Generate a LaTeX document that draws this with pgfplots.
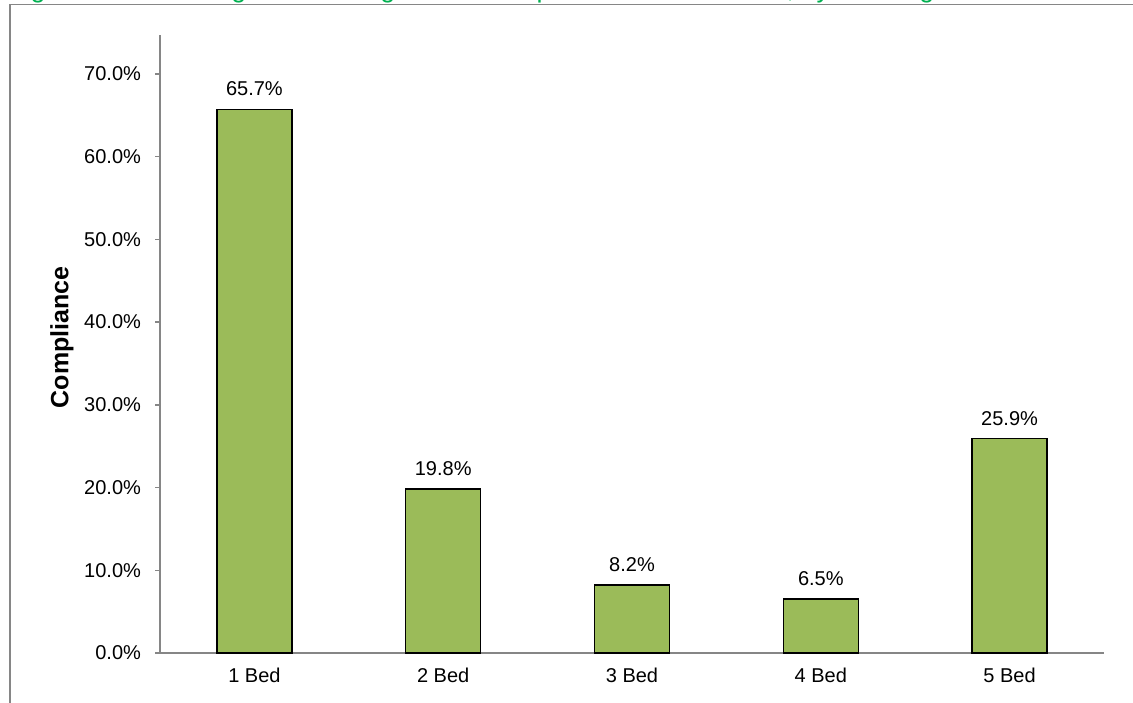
\documentclass[border=0pt]{standalone}
\usepackage{fontspec}
\setmainfont{Liberation Sans}
\usepackage{pgfplots}
\pgfplotsset{compat=1.18}
\definecolor{barGreen}{HTML}{9BBB59}
\definecolor{axisGray}{HTML}{868686}
\definecolor{titleGreen}{HTML}{00B050}

\begin{document}
\begin{tikzpicture}
\begin{axis}[
    at={(80pt,24.5pt)}, anchor=south west,
    scale only axis, width=472pt, height=309pt,
    xmin=-0.5, xmax=4.5,
    ymin=0, ymax=74.7,
    axis x line*=bottom, axis y line*=left,
    axis line style={axisGray, line width=0.75pt, -},
    tick align=outside,
    major tick length=2.5pt,
    minor tick length=3.5pt,
    xtick={0,1,2,3,4},
    xticklabels={1 Bed,2 Bed,3 Bed,4 Bed,5 Bed},
    xtick style={draw=none},
    minor xtick={-0.5,0.5,1.5,2.5,3.5,4.5},
    every minor tick/.append style={axisGray, line width=0.75pt},
    ytick={0,10,20,30,40,50,60,70},
    ytick style={axisGray, line width=0.75pt},
    yticklabel={\pgfmathprintnumber[fixed,fixed zerofill,precision=1]{\tick}\%},
    /pgf/number format/assume math mode=true,
    tick label style={font=\fontsize{10}{12}\selectfont, black},
    yticklabel style={xshift=-3.5pt},
    xticklabel style={yshift=-1.5pt},
    ylabel={Compliance},
    every axis y label/.style={at={(axis description cs:-0.104,0.511)}, rotate=90, anchor=center, font=\fontsize{12.5}{15}\selectfont\bfseries},
    ybar, bar width=37.5pt,
    nodes near coords={\pgfmathprintnumber[fixed,fixed zerofill,precision=1]{\pgfplotspointmeta}\%},
    nodes near coords style={font=\fontsize{10}{12}\selectfont, black, yshift=3pt},
    clip=false,
]
\addplot[fill=barGreen, draw=black, line width=0.75pt] coordinates {
    (0, 65.7)
    (1, 19.8)
    (2, 8.2)
    (3, 6.5)
    (4, 25.9)
};
\end{axis}

% chart area frame, cut by the page edge
\draw[axisGray, line width=0.75pt] (5pt,-20pt) -- (5pt,348.85pt) -- (600pt,348.85pt);
% caption above the frame, mostly cut off
\node[anchor=base west, text=titleGreen, font=\fontsize{13.4}{16}\selectfont, inner sep=0pt]
    at (4pt,352.3pt) {Figure 5: Percentage of dwellings in full compliance with the code, by dwelling size};

\pgfresetboundingbox
\path[use as bounding box] (0,0) rectangle (566.5pt,351pt);
\end{tikzpicture}
\end{document}
